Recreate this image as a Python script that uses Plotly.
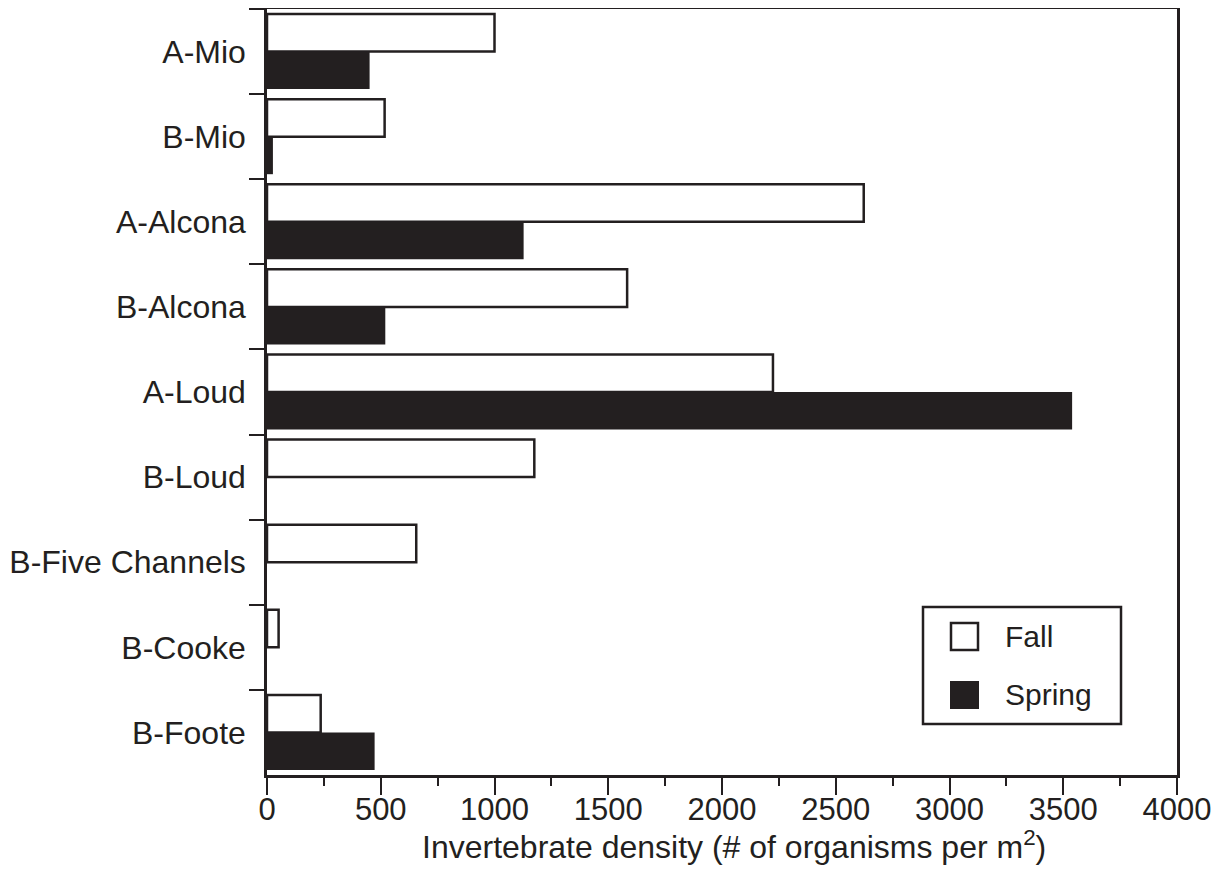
import plotly.graph_objects as go

sites = ["A-Mio", "B-Mio", "A-Alcona", "B-Alcona", "A-Loud", "B-Loud",
         "B-Five Channels", "B-Cooke", "B-Foote"]
fall = [1000, 517, 2623, 1583, 2224, 1175, 656, 51, 236]
spring = [451, 26, 1128, 520, 3539, 0, 0, 0, 473]
x_ticks = [0, 500, 1000, 1500, 2000, 2500, 3000, 3500, 4000]
x_title = "Invertebrate density (# of organisms per m<sup>2</sup>)"

INK = "#231f20"
FONT = "Liberation Sans, Arial, Helvetica, sans-serif"

# page is offset by the default 8px body margin
OFF = 8
PAGE_W, PAGE_H = 1221, 880
W, H = PAGE_W - OFF, PAGE_H - OFF
# plot area in page pixels
PL, PR, PT, PB = 267, 1177, 9, 775
ML, MT = PL - OFF, PT - OFF
MR, MB = PAGE_W - PR, PAGE_H - PB
PW, PH = PR - PL, PB - PT


def px_x(p):
    return (p - PL) / PW


def px_y(p):
    return (PB - p) / PH


fig = go.Figure()
fig.add_trace(go.Bar(
    y=sites, x=fall, name="Fall", orientation="h",
    marker=dict(color="white", line=dict(color=INK, width=2.5)),
    showlegend=False,
))
fig.add_trace(go.Bar(
    y=sites, x=spring, name="Spring", orientation="h",
    marker=dict(color=INK, line=dict(color=INK, width=0)),
    showlegend=False,
))

# Legend drawn as a boxed key
shapes = [
    dict(type="rect", xref="paper", yref="paper",
         x0=px_x(923), x1=px_x(1121), y0=px_y(724), y1=px_y(607),
         line=dict(color=INK, width=2.5), fillcolor="white"),
    dict(type="rect", xref="paper", yref="paper",
         x0=px_x(951), x1=px_x(978), y0=px_y(650), y1=px_y(623),
         line=dict(color=INK, width=2.5), fillcolor="white"),
    dict(type="rect", xref="paper", yref="paper",
         x0=px_x(950), x1=px_x(979), y0=px_y(709), y1=px_y(681),
         line=dict(color=INK, width=0), fillcolor=INK),
]
annotations = [
    dict(text="Fall", xref="paper", yref="paper", x=px_x(1003), y=px_y(636),
         xanchor="left", yanchor="middle", showarrow=False,
         font=dict(family=FONT, size=30, color=INK)),
    dict(text="Spring", xref="paper", yref="paper", x=px_x(1003), y=px_y(694),
         xanchor="left", yanchor="middle", showarrow=False,
         font=dict(family=FONT, size=30, color=INK)),
    dict(text=x_title, xref="paper", yref="paper", x=px_x(734), y=px_y(845),
         xanchor="center", yanchor="middle", showarrow=False,
         font=dict(family=FONT, size=32, color=INK)),
]

fig.update_layout(
    width=W, height=H,
    margin=dict(l=ML, r=MR, t=MT, b=MB, autoexpand=False),
    paper_bgcolor="white", plot_bgcolor="white",
    barmode="group", bargap=0.118, bargroupgap=0,
    font=dict(family=FONT, color=INK),
    shapes=shapes, annotations=annotations,
    xaxis=dict(
        range=[0, 4000], tickvals=x_ticks, ticktext=[str(v) for v in x_ticks],
        ticks="outside", ticklen=17, tickwidth=1.5, tickcolor=INK,
        minor=dict(dtick=250, ticks="outside", ticklen=8, tickwidth=1.5, tickcolor=INK),
        showline=True, linecolor=INK, linewidth=2.5, mirror=True,
        showgrid=False, zeroline=False,
        tickfont=dict(family=FONT, size=31, color=INK),
        ticklabelstandoff=-12,
        automargin=False,
    ),
    yaxis=dict(
        categoryorder="array", categoryarray=sites, autorange="reversed",
        ticks="outside", tickson="boundaries", ticklen=15, tickwidth=1.5, tickcolor=INK,
        showline=True, linecolor=INK, linewidth=2.5, mirror=True,
        showgrid=False, zeroline=False,
        tickfont=dict(family=FONT, size=32, color=INK),
        ticklabelstandoff=12,
        automargin=False,
    ),
)

fig.write_html("out.html")
